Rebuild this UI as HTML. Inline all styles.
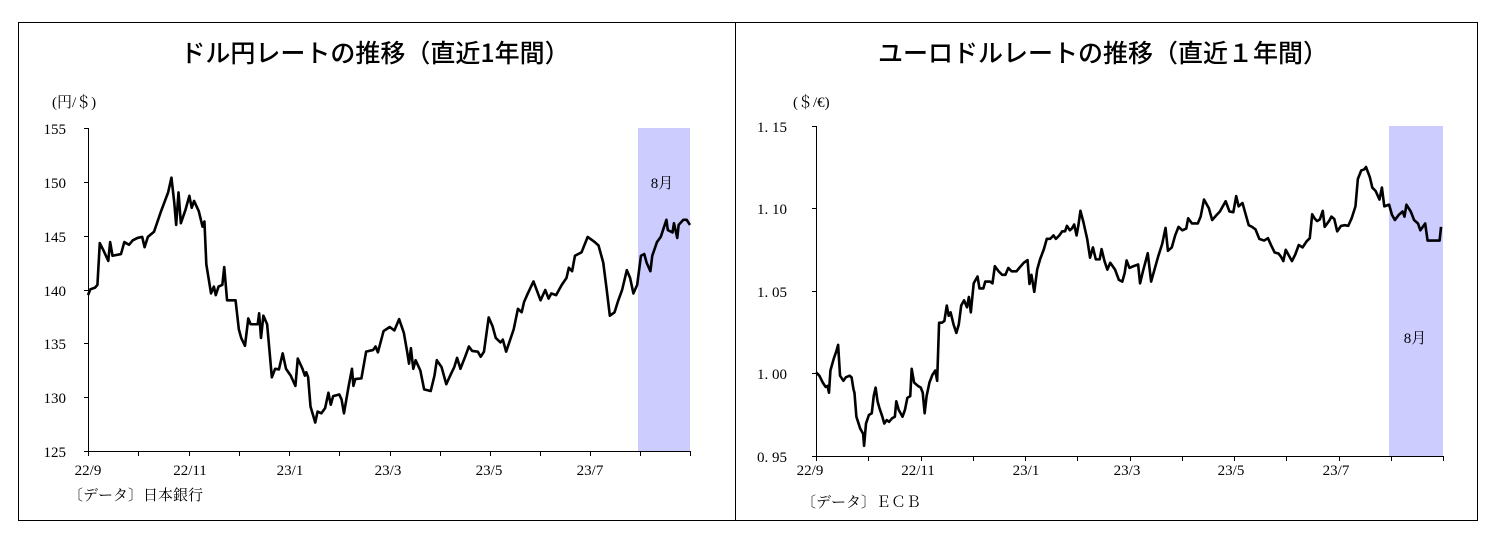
<!DOCTYPE html>
<html><head><meta charset="utf-8"><style>
html,body{margin:0;padding:0;background:#fff;}
svg{display:block}
.t{font-family:"Noto Sans CJK JP","Liberation Sans",sans-serif;font-size:25px;font-weight:500;fill:#000}
.s{font-family:"Liberation Serif","Noto Serif CJK SC",serif;font-size:15px;fill:#000}
.f{font-family:"Liberation Serif","Noto Serif CJK SC",serif;font-size:15px;fill:#000}
.ln{fill:none;stroke:#000;stroke-width:2.6;stroke-linejoin:round;vector-effect:non-scaling-stroke}
</style></head><body>
<svg width="1495" height="535" viewBox="0 0 1495 535" xmlns="http://www.w3.org/2000/svg">
<rect x="0" y="0" width="1495" height="535" fill="#fff"/>
<path d="M18 22.5 H1478 M18 520.5 H1478 M18.5 22 V521 M735.5 22 V521 M1477.5 22 V521" stroke="#000" stroke-width="1" fill="none"/>

<!-- LEFT -->
<text class="t" x="375" y="62" text-anchor="middle">ドル円レートの推移（直近1年間）</text>
<text class="f" x="52" y="107">(円/＄)</text>
<rect x="638" y="128" width="52" height="323" fill="#ccccff"/>
<text class="f" x="662" y="188" text-anchor="middle" font-size="11" fill="#333">8月</text>
<g stroke="#000" stroke-width="1">
<line x1="88.5" y1="128" x2="88.5" y2="451"/>
<line x1="88" y1="451.5" x2="690" y2="451.5"/>
<line x1="84" y1="128.5" x2="88" y2="128.5"/><line x1="84" y1="182.5" x2="88" y2="182.5"/><line x1="84" y1="236.5" x2="88" y2="236.5"/><line x1="84" y1="290.5" x2="88" y2="290.5"/><line x1="84" y1="343.5" x2="88" y2="343.5"/><line x1="84" y1="397.5" x2="88" y2="397.5"/><line x1="84" y1="451.5" x2="88" y2="451.5"/>
<path d="M88.5 451v5M138.5 451v5M189.5 451v5M239.5 451v5M289.5 451v5M339.5 451v5M390.5 451v5M440.5 451v5M490.5 451v5M540.5 451v5M590.5 451v5M640.5 451v5M690.5 451v5"/>
</g>
<g class="s" text-anchor="end">
<text x="66" y="134">155</text><text x="66" y="188">150</text><text x="66" y="242">145</text><text x="66" y="296">140</text><text x="66" y="349">135</text><text x="66" y="403">130</text><text x="66" y="457">125</text>
</g>
<g class="s" text-anchor="middle">
<text x="88" y="475">22/9</text><text x="190" y="475">22/11</text><text x="290" y="475">23/1</text><text x="388" y="475">23/3</text><text x="489" y="475">23/5</text><text x="590" y="475">23/7</text>
</g>
<text class="f" x="68" y="500">〔データ〕日本銀行</text>
<g transform="translate(88 128) scale(0.4714 0.3425) translate(-185 -377)">
<polyline class="ln" points="185,865 190,848 200,843 205,835 210,713 218,735 228,765 232,710 237,750 255,745 262,710 272,718 280,705 290,698 300,695 305,725 312,695 325,680 340,620 355,565 362,522 368,595 372,660 377,565 382,655 392,615 400,575 405,610 410,590 420,620 428,665 432,650 436,775 446,860 452,840 456,865 462,840 470,835 474,783 480,880 498,880 505,965 510,990 518,1013 525,933 530,950 545,950 548,918 552,990 557,925 565,950 575,1105 582,1080 590,1082 598,1035 605,1080 615,1100 625,1130 630,1050 640,1080 645,1100 648,1090 652,1105 657,1190 667,1237 672,1205 680,1210 688,1195 695,1150 700,1185 705,1160 718,1155 723,1170 728,1210 738,1130 745,1080 748,1130 752,1110 765,1108 775,1030 790,1025 795,1015 800,1032 812,970 825,958 835,968 845,935 855,975 862,1030 866,1065 870,1020 875,1080 880,1055 890,1085 898,1140 912,1145 920,1100 925,1055 935,1075 945,1125 955,1095 962,1075 968,1048 975,1080 985,1045 993,1015 1000,1028 1012,1030 1018,1045 1025,1030 1035,930 1043,955 1050,990 1060,1003 1065,995 1072,1030 1088,965 1097,905 1105,915 1110,885 1118,860 1130,825 1145,880 1155,850 1162,875 1168,860 1178,865 1190,835 1200,815 1205,785 1212,795 1218,750 1232,740 1245,695 1260,710 1268,720 1278,770 1285,845 1292,925 1302,915 1310,880 1318,850 1328,792 1335,815 1342,860 1350,835 1358,750 1365,745 1370,770 1378,795 1382,750 1392,710 1400,695 1412,645 1415,675 1425,682 1428,655 1435,698 1438,660 1448,645 1455,645 1462,660"/>
</g>

<!-- RIGHT -->
<text class="t" x="1103" y="62" text-anchor="middle">ユーロドルレートの推移（直近１年間）</text>
<text class="f" x="793" y="107">(＄/€)</text>
<rect x="1389" y="126" width="54" height="330" fill="#ccccff"/>
<text class="f" x="1415" y="343" text-anchor="middle" font-size="11" fill="#333">8月</text>
<g stroke="#000" stroke-width="1">
<line x1="816.5" y1="126" x2="816.5" y2="456"/>
<line x1="816" y1="456.5" x2="1443" y2="456.5"/>
<line x1="812" y1="126.5" x2="816" y2="126.5"/><line x1="812" y1="208.5" x2="816" y2="208.5"/><line x1="812" y1="291.5" x2="816" y2="291.5"/><line x1="812" y1="373.5" x2="816" y2="373.5"/><line x1="812" y1="456.5" x2="816" y2="456.5"/>
<path d="M816.5 456v5M868.5 456v5M921.5 456v5M973.5 456v5M1025.5 456v5M1077.5 456v5M1130.5 456v5M1182.5 456v5M1234.5 456v5M1286.5 456v5M1339.5 456v5M1391.5 456v5M1443.5 456v5"/>
</g>
<g class="s">
<text x="757" y="132">1. 15</text><text x="757" y="214">1. 10</text><text x="757" y="297">1. 05</text><text x="757" y="379">1. 00</text><text x="757" y="462">0. 95</text>
</g>
<g class="s" text-anchor="middle">
<text x="810" y="475">22/9</text><text x="918" y="475">22/11</text><text x="1026" y="475">23/1</text><text x="1127" y="475">23/3</text><text x="1231" y="475">23/5</text><text x="1336" y="475">23/7</text>
</g>
<text class="f" x="801" y="507">〔データ〕ＥＣＢ</text>
<g transform="translate(816 126) scale(0.4808 0.342) translate(-158 -370)">
<polyline class="ln" points="158,1090 165,1100 172,1120 178,1133 182,1130 185,1150 188,1085 195,1050 200,1030 204,1010 208,1100 215,1115 220,1105 228,1100 232,1105 236,1140 238,1150 242,1220 250,1255 256,1270 258,1305 262,1240 268,1215 274,1210 278,1160 282,1135 286,1175 290,1195 296,1220 300,1240 305,1230 310,1235 316,1225 322,1220 325,1175 330,1200 338,1220 343,1200 348,1165 354,1160 357,1080 362,1120 370,1130 376,1135 380,1150 384,1210 388,1160 394,1120 400,1098 406,1085 410,1115 414,945 420,945 425,940 430,895 434,925 438,915 444,950 450,975 455,950 460,895 466,880 472,900 476,870 480,915 486,830 490,820 494,810 498,845 506,845 510,825 520,825 525,830 530,780 538,795 545,805 552,805 558,785 565,795 575,795 582,783 590,770 598,762 602,832 606,805 612,855 618,790 624,760 632,730 638,700 645,700 652,690 657,700 664,690 670,678 676,678 680,662 686,675 690,670 695,658 700,690 704,658 708,618 714,650 722,700 728,755 734,725 740,760 748,760 752,730 758,765 764,790 770,770 780,790 788,820 795,825 800,800 804,763 810,785 818,780 828,775 832,830 838,795 848,742 855,825 862,790 870,750 878,715 885,668 890,735 898,725 905,690 912,665 920,675 928,670 932,640 940,655 952,655 958,635 965,585 975,610 982,645 990,632 998,620 1010,590 1018,620 1026,622 1032,575 1037,605 1045,595 1052,630 1058,660 1065,665 1072,672 1080,700 1090,705 1098,698 1105,720 1112,740 1120,743 1125,752 1130,765 1135,732 1140,745 1148,765 1155,745 1162,718 1170,725 1178,708 1185,698 1190,628 1195,640 1200,648 1206,643 1212,618 1216,665 1225,648 1230,635 1236,642 1242,678 1250,662 1258,660 1265,662 1272,640 1280,605 1285,525 1292,500 1298,497 1302,490 1310,520 1315,550 1322,560 1330,585 1335,550 1340,605 1350,600 1356,630 1362,645 1370,630 1378,620 1382,635 1386,600 1395,620 1402,645 1410,655 1415,675 1420,665 1425,655 1430,705 1440,705 1450,705 1455,705 1458,665"/>
</g>
</svg>
</body></html>
